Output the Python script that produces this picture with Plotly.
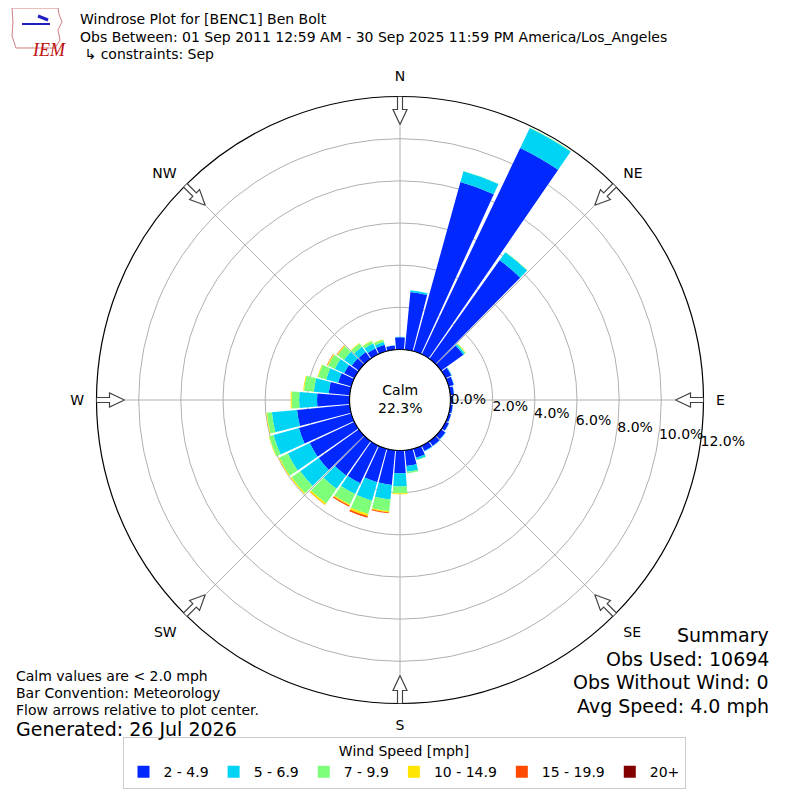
import math
import plotly.graph_objects as go

directions = list(range(0, 360, 10))
speed_bins = ["2 - 4.9", "5 - 6.9", "7 - 9.9", "10 - 14.9", "15 - 19.9", "20+"]
bin_colors = ["#0028ff", "#00d4f5", "#7dff7a", "#ffe500", "#ff4a00", "#800000"]

pct_2_5 = [0.58, 2.75, 8.33, 10.85, 5.74, 1.30, 0.30, 0.25, 0.18, 0.12, 0.12, 0.12,
           0.18, 0.25, 0.28, 0.28, 0.45, 0.75, 1.08, 1.65, 1.65, 1.98, 2.00, 2.34,
           2.35, 2.58, 2.51, 1.54, 1.00, 0.65, 0.54, 0.42, 0.40, 0.31, 0.33, 0.20]
pct_5_7 = [0.02, 0.08, 0.54, 1.05, 0.47, 0.08, 0.03, 0.02, 0.01, 0.01, 0.01, 0.01,
           0.01, 0.02, 0.02, 0.03, 0.10, 0.27, 0.63, 0.70, 0.91, 0.57, 0.78, 1.08,
           1.15, 1.25, 1.20, 0.85, 0.71, 0.59, 0.49, 0.45, 0.30, 0.26, 0.13, 0.01]
pct_7_10 = [0.00, 0.00, 0.01, 0.02, 0.02, 0.05, 0.01, 0.00, 0.00, 0.00, 0.00, 0.00,
            0.00, 0.00, 0.00, 0.00, 0.02, 0.08, 0.32, 0.56, 0.66, 0.55, 0.85, 0.50,
            0.45, 0.22, 0.24, 0.36, 0.47, 0.40, 0.36, 0.38, 0.20, 0.14, 0.11, 0.00]
pct_10_15 = [0.00, 0.00, 0.00, 0.00, 0.00, 0.02, 0.00, 0.00, 0.00, 0.00, 0.00, 0.00,
             0.00, 0.00, 0.00, 0.00, 0.00, 0.00, 0.05, 0.05, 0.10, 0.06, 0.08, 0.05,
             0.04, 0.02, 0.03, 0.05, 0.04, 0.03, 0.04, 0.04, 0.03, 0.02, 0.02, 0.00]
pct_15_20 = [0.00, 0.00, 0.00, 0.00, 0.00, 0.00, 0.00, 0.00, 0.00, 0.00, 0.00, 0.00,
             0.00, 0.00, 0.00, 0.00, 0.00, 0.00, 0.00, 0.04, 0.08, 0.06, 0.01, 0.00,
             0.00, 0.00, 0.00, 0.00, 0.00, 0.00, 0.02, 0.02, 0.00, 0.00, 0.00, 0.00]
pct_20_up = [0.0] * 36

radial_ticks = [0, 2, 4, 6, 8, 10, 12]
compass_deg = [0, 45, 90, 135, 180, 225, 270, 315]
compass_txt = ["N", "NE", "E", "SE", "S", "SW", "W", "NW"]
calm_pct = 22.3

title_lines = ["Windrose Plot for [BENC1] Ben Bolt",
               "Obs Between: 01 Sep 2011 12:59 AM - 30 Sep 2025 11:59 PM America/Los_Angeles",
               " \u21b3 constraints: Sep"]
notes = ["Calm values are < 2.0 mph", "Bar Convention: Meteorology",
         "Flow arrows relative to plot center."]
summary = ["Summary", "Obs Used: 10694", "Obs Without Wind: 0", "Avg Speed: 4.0 mph"]

# --- geometry (pixels, page coords; the page body has an 8px margin) ---
OFF = 8
W = H = 800 - OFF
CX, CY = 400, 400
R_OUT = 303.5
R_HOLE = 50.5
RMAX = radial_ticks[-1]
FONT = "DejaVu Sans"


def px_to_r(p):
    return (p - R_HOLE) / (R_OUT - R_HOLE) * RMAX


def r_to_px(r):
    return R_HOLE + r * (R_OUT - R_HOLE) / RMAX


def fx(x):
    return (x - OFF) / W


def fy(y):
    return 1 - (y - OFF) / H


fig = go.Figure()

series = [pct_2_5, pct_5_7, pct_7_10, pct_10_15, pct_15_20, pct_20_up]
for name, col, vals in zip(speed_bins, bin_colors, series):
    fig.add_trace(go.Barpolar(r=vals, theta=directions, width=9, name=name,
                              marker=dict(color=col, line=dict(width=0)),
                              hovertemplate="%{theta}: %{r:.2f}%<extra>" + name + "</extra>"))

# black edge of the calm circle
fig.add_trace(go.Scatterpolar(r=[0] * 181, theta=list(range(0, 362, 2)), mode="lines",
                              line=dict(color="black", width=1.2), showlegend=False,
                              hoverinfo="skip"))

# hollow flow arrows at the compass points
arrow_local = [(R_OUT + 2, -2.5), (R_OUT - 13, -2.5), (R_OUT - 13, -7), (R_OUT - 28, 0),
               (R_OUT - 13, 7), (R_OUT - 13, 2.5), (R_OUT + 2, 2.5), (R_OUT + 2, -2.5)]
for d in compass_deg:
    rr, tt = [], []
    for a, t in arrow_local:
        rr.append(px_to_r(math.hypot(a, t)))
        tt.append(d + math.degrees(math.atan2(t, a)))
    fig.add_trace(go.Scatterpolar(r=rr, theta=tt, mode="lines", fill="toself",
                                  fillcolor="white", line=dict(color="#444444", width=1.2),
                                  showlegend=False, hoverinfo="skip", cliponaxis=False))

# radial tick labels, stepping down slightly as they go outward (like matplotlib)
label_theta = [90 + math.degrees(math.atan2(3.6 * v, r_to_px(v))) for v in radial_ticks]
fig.add_trace(go.Scatterpolar(r=radial_ticks, theta=label_theta,
                              mode="text", text=["%.1f%%" % v for v in radial_ticks],
                              textposition="middle right",
                              textfont=dict(family=FONT, size=14, color="black"),
                              showlegend=False, hoverinfo="skip", cliponaxis=False))

dom_x = [fx(CX - R_OUT), fx(CX + R_OUT)]
dom_y = [fy(CY + R_OUT), fy(CY - R_OUT)]
fig.update_layout(
    width=W, height=H, margin=dict(l=0, r=0, t=0, b=0),
    paper_bgcolor="white", font=dict(family=FONT, size=14, color="black"),
    polar=dict(
        domain=dict(x=dom_x, y=dom_y), hole=R_HOLE / R_OUT, bgcolor="white", barmode="stack",
        radialaxis=dict(range=[0, RMAX], tickvals=radial_ticks, showticklabels=False,
                        ticks="", showline=False, gridcolor="#b0b0b0", gridwidth=1,
                        layer="below traces"),
        angularaxis=dict(rotation=90, direction="clockwise", tickvals=compass_deg,
                         ticktext=compass_txt, ticks="outside", ticklen=9,
                         tickcolor="rgba(0,0,0,0)", showline=True, linecolor="black",
                         linewidth=1.2, gridcolor="#b0b0b0", gridwidth=1,
                         tickfont=dict(family=FONT, size=14, color="black"),
                         layer="below traces"),
    ),
    legend=dict(orientation="h", x=0.5, xanchor="center", y=fy(789), yanchor="bottom",
                bordercolor="#cccccc", borderwidth=1, font=dict(family=FONT, size=14),
                itemwidth=30,
                title=dict(text="Wind Speed [mph]", side="top center",
                           font=dict(family=FONT, size=14))),
    showlegend=True,
)


def ann(text, x, y, size, xanchor="left", color="black", **kw):
    fig.add_annotation(text=text, x=fx(x), y=fy(y), xref="paper", yref="paper",
                       xanchor=xanchor, yanchor="middle", showarrow=False,
                       font=dict(family=FONT, size=size, color=color), **kw)


ann("Calm<br>%.1f%%" % calm_pct, 400, 399, 14, xanchor="center", align="center")

for i, line in enumerate(title_lines):
    ann(line, 78, 19 + i * 17.5, 14)

for i, line in enumerate(notes):
    ann(line, 14, 676 + i * 17, 14)
ann("Generated: 26 Jul 2026", 14, 729, 19)

for i, line in enumerate(summary):
    ann(line, 771, 635 + i * 23.5, 19, xanchor="right", align="right")


# rough IEM logo
def pp(pts):
    return "M " + " L ".join("%.4f,%.4f" % (fx(x), fy(y)) for x, y in pts) + " Z"


fig.add_shape(type="path", xref="paper", yref="paper",
              path=pp([(12, 8), (58, 8), (59, 14), (62, 22), (58, 30), (60, 40), (55, 48),
                       (16, 48), (12, 36), (13, 22)]),
              line=dict(color="#d08080", width=1))
fig.add_shape(type="line", xref="paper", yref="paper", x0=fx(22), x1=fx(50),
              y0=fy(24), y1=fy(24), line=dict(color="#2020c0", width=2))
fig.add_shape(type="line", xref="paper", yref="paper", x0=fx(38), x1=fx(48),
              y0=fy(16), y1=fy(20), line=dict(color="#2020c0", width=3))
fig.add_annotation(text="<i>IEM</i>", x=fx(30), y=fy(38), xref="paper", yref="paper",
                   showarrow=False, font=dict(family="Liberation Serif", size=18, color="#c01010"))

fig.write_html("out.html")
